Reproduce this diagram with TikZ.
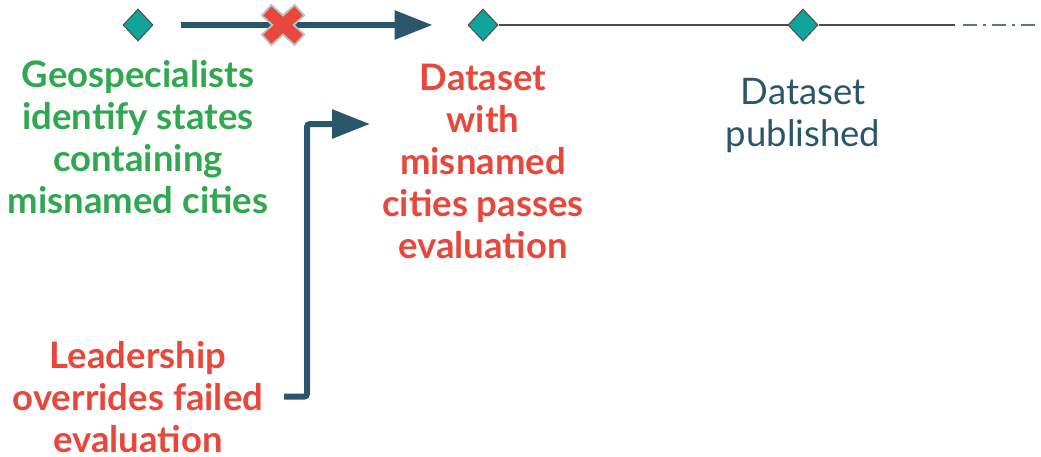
\documentclass[tikz,border=0pt]{standalone}
\usepackage{fontspec}
\setmainfont{Lato}
\usetikzlibrary{positioning,calc,arrows.meta,shapes.geometric}
\definecolor{tealdot}{HTML}{12A39A}
\definecolor{flowblue}{HTML}{2A566B}
\definecolor{okgreen}{HTML}{2FA84F}
\definecolor{badred}{HTML}{E8473B}
\tikzset{>={Triangle[length=38pt,width=28pt]}}
\tikzset{
  milestone/.style={diamond,draw=black!70,fill=tealdot,line width=1pt,minimum width=30pt,minimum height=32pt,inner sep=0pt,aspect=0.93},
  flow/.style={draw=flowblue,line width=6pt,->},
  lbl/.style={align=center,font=\fontsize{36.5}{42}\selectfont\bfseries,inner sep=0pt,outer sep=0pt},
}
\begin{document}
\begin{tikzpicture}[x=1pt,y=-1pt]
\useasboundingbox (0,0) rectangle (1041,456);
% milestones on the time line
\node[milestone] (geo) at (138,25) {};
\node[milestone] (pass) at (483,25) {};
\node[milestone] (pub) at (803,25) {};
\coordinate (lineend) at (955,25);
\coordinate (farend) at (963,25);
\coordinate (edge) at (1041,25);
\draw[black!70,line width=1.5pt] (pass) -- (pub) -- (lineend);
\draw[flowblue!80,line width=1.5pt,dash pattern=on 14pt off 6pt on 3pt off 6pt] (farend) -- (edge);
% blocked step
\draw[flow,shorten <=27pt,shorten >=35pt] (geo.east) -- (pass.west);
\coordinate (cross) at (283,25);
\foreach \a in {42,138}{
  \draw[black!25,line width=16pt] ($(cross)+(\a:23)$) -- ($(cross)+(\a+180:23)$);
}
\foreach \a in {42,138}{
  \draw[badred,line width=12pt] ($(cross)+(\a:21)$) -- ($(cross)+(\a+180:21)$);
}
% texts
\node[lbl,text=okgreen,anchor=north] (geotext) at (138,60.5) {Geospecialists\\identify states\\containing\\misnamed cities};
\node[lbl,text=badred,anchor=north] (passtext) at (483,64) {Dataset\\with\\misnamed\\cities passes\\evaluation};
\node[lbl,text=flowblue,anchor=north,font=\fontsize{36.5}{42}\selectfont] (pubtext) at (803,78) {Dataset\\published};
\node[lbl,text=badred,anchor=north] (lead) at (138,341) {Leadership\\overrides failed\\evaluation};
% override path
\coordinate (into) at (370,124);
\draw[flow,rounded corners=3pt] ($(lead.east)+(21,0)$) -| (307,124) -- (into);
\end{tikzpicture}
\end{document}
